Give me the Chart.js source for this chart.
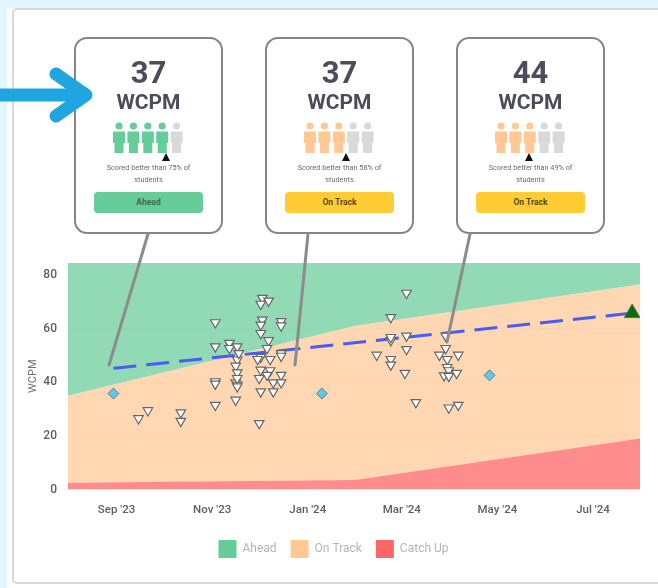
<!DOCTYPE html>
<html>
<head>
<meta charset="utf-8">
<title>WCPM progress</title>
<script src="https://cdn.jsdelivr.net/npm/chart.js@4"></script>
<style>
  html, body { margin: 0; padding: 0; background: #fff; }
  body { width: 658px; height: 588px; position: relative; overflow: hidden; font-family: Roboto, sans-serif; }
  .edge-left { position: absolute; left: 0; top: 0; width: 7px; height: 588px; background: #e2f6ff; }
  .edge-top { position: absolute; left: 0; top: 0; width: 658px; height: 8px; background: #e2f6ff; }
  .panel { position: absolute; left: 12px; top: 8px; width: 660px; height: 576px; border: 2px solid #d8d8d8; border-radius: 5px; box-sizing: border-box; }
  #chartBox { position: absolute; left: 0; top: 0; width: 658px; height: 588px; }
  #overlay { position: absolute; left: 0; top: 0; pointer-events: none; }
  .card { position: absolute; top: 37px; width: 149px; height: 197px; box-sizing: border-box; border: 2.5px solid #858585; border-radius: 13px; background: #fff; text-align: center; }
  .card .num { position: absolute; left: 0; right: 0; top: 16px; font-size: 31px; line-height: 36px; font-weight: 700; color: #4b4c5c; }
  .card .unit { position: absolute; left: 0; right: 0; top: 50px; font-size: 21px; line-height: 26px; font-weight: 700; color: #4b4c5c; }
  .card .note { position: absolute; left: 22px; right: 22px; top: 123px; font-size: 7.3px; line-height: 11.5px; color: #6b6b70; }
  .card .badge { position: absolute; left: 18px; width: 109px; top: 153px; height: 21px; line-height: 20px; border-radius: 4px; font-size: 8.5px; font-weight: 700; }
  .card svg { position: absolute; left: 0; top: 0; }
</style>
</head>
<body>
<div class="edge-left"></div>
<div class="edge-top"></div>
<div class="panel"></div>
<div id="chartBox"><canvas id="chart" width="658" height="588"></canvas></div>
<div id="cards"></div>
<svg id="overlay" width="658" height="588">
  <g stroke="#8c8c8c" stroke-width="3" stroke-linecap="round" fill="none">
    <line x1="148" y1="234" x2="109" y2="365"/>
    <line x1="308" y1="234" x2="295" y2="365"/>
    <line x1="470" y1="234" x2="447" y2="342"/>
  </g>
  <g stroke="#1fa5e0" stroke-width="13" stroke-linecap="round" stroke-linejoin="round" fill="none">
    <line x1="-5" y1="95" x2="85" y2="95"/>
    <polyline points="56,74 86,95 56,116"/>
  </g>
</svg>

<script>
// x values are days counted from 1 Sep 2023
const tickDays = [0, 61, 122, 182, 243, 304];
const tickLabels = ["Sep '23", "Nov '23", "Jan '24", "Mar '24", "May '24", "Jul '24"];

const bandDays = [-31, 152, 334];
const catchUpTop = [2.5, 3.5, 19];
const onTrackTop = [35, 61, 76.5];
const aheadTop = [84.5, 84.5, 84.5];

const trendDays = [-2, 329];
const trendValues = [45.2, 65.8];

const goalDays = [329];
const goalValues = [65.8];

const quizDays = [-2, 131, 238];
const quizValues = [35.8, 35.8, 42.6];

const readingDays = [14, 20, 41, 41, 63, 63, 63, 63, 63, 72, 72, 77, 76, 77, 76, 77, 76, 77, 77, 77, 78,
  93, 92, 97, 93, 92, 92, 97, 96, 91, 92, 91, 92, 90, 98, 92, 98, 96, 100, 100, 105, 105, 105, 105, 105, 105,
  185, 175, 175, 175, 185, 185, 166, 175, 175, 184, 191, 212, 218, 210, 210, 206, 218, 211, 211, 212, 209, 212, 217];
const readingValues = [26.5, 29.5, 25.5, 28.7, 31.5, 40.3, 39.4, 53.3, 62.3, 54.6, 52.7, 53.3, 33.4, 48.4, 46.1, 43.6, 39.9, 39, 41.5, 38.4, 50.8,
  71.4, 69.2, 70.4, 63.3, 61.4, 58.3, 55.6, 52.7, 24.7, 36.5, 41.5, 49.4, 48.6, 48.6, 44.6, 44.4, 42.7, 39.9, 36.5, 42.7, 39.9, 62.7, 61.1, 50.8, 49.8,
  73.3, 64.2, 55.6, 56.8, 57.3, 52.3, 50.2, 48.6, 46.5, 43.4, 32.5, 30.5, 31.5, 57.3, 52.7, 50.2, 50.2, 48.6, 45.6, 44.4, 42.5, 42.3, 43.4];

const bandNames = ["Ahead", "On Track", "Catch Up"];
const bandSwatches = ["#66cc99", "#ffc894", "#ff6666"];

const cardLeft = [74, 265, 456];
const cardScores = ["37", "37", "44"];
const cardPercents = [75, 58, 49];
const cardFilled = [4, 3, 3];
const cardMarker = [90, 79, 71];
const cardStatus = ["Ahead", "On Track", "On Track"];

function pairs(xs, ys) {
  return xs.map((x, i) => ({ x: x, y: ys[i] }));
}

function person(cx, color) {
  return '<circle cx="' + cx + '" cy="87" r="3.6" fill="' + color + '"/>' +
    '<path fill="' + color + '" d="M' + (cx - 6) + ' 92.5 h12 v11.5 h-1.5 v10 h-9 v-10 h-1.5 z"/>';
}

// build the three cards
let cardsHtml = '';
cardLeft.forEach((left, i) => {
  const ahead = cardStatus[i] === 'Ahead';
  const color = ahead ? '#66cc99' : '#ffc894';
  let icons = '';
  for (let p = 0; p < 5; p++) {
    icons += person(43 + p * 14.4, p < cardFilled[i] ? color : '#d9d9d9');
  }
  const m = cardMarker[i];
  icons += '<path d="M' + (m - 4) + ' 122 L' + m + ' 114 L' + (m + 4) + ' 122 Z" fill="#111"/>';
  cardsHtml += '<div class="card" style="left:' + left + 'px">' +
    '<div class="num">' + cardScores[i] + '</div>' +
    '<div class="unit">WCPM</div>' +
    '<svg width="144" height="192">' + icons + '</svg>' +
    '<div class="note">Scored better than ' + cardPercents[i] + '% of students</div>' +
    '<div class="badge" style="background:' + (ahead ? '#66cc99' : '#ffcc33') + ';color:' + (ahead ? '#3f6f55' : '#5c4c1e') + '">' + cardStatus[i] + '</div>' +
    '</div>';
});
document.getElementById('cards').innerHTML = cardsHtml;

const ctx = document.getElementById('chart').getContext('2d');
new Chart(ctx, {
  type: 'scatter',
  data: {
    datasets: [
      { type: 'scatter', label: 'Trend', data: pairs(trendDays, trendValues), showLine: true, borderColor: '#4a5cf5', borderWidth: 3, borderDash: [23, 10], pointRadius: 0, order: 3 },
      { type: 'scatter', label: 'Goal', data: pairs(goalDays, goalValues), pointStyle: 'triangle', pointRadius: 9, backgroundColor: '#0b6b12', borderColor: '#4f6f50', borderWidth: 1, order: 0 },
      { type: 'scatter', label: 'Quiz', data: pairs(quizDays, quizValues), pointStyle: 'rectRot', pointRadius: 5.5, backgroundColor: '#5cc8ee', borderColor: '#777', borderWidth: 1, order: 1 },
      { type: 'scatter', label: 'Reading', data: pairs(readingDays, readingValues), pointStyle: 'triangle', rotation: 180, pointRadius: 5.5, backgroundColor: '#fff', borderColor: '#666', borderWidth: 1.2, order: 2 },
      { type: 'line', label: 'Catch Up', data: pairs(bandDays, catchUpTop), fill: 'origin', backgroundColor: 'rgba(255,102,102,0.75)', borderWidth: 0, pointRadius: 0, tension: 0, order: 4 },
      { type: 'line', label: 'On Track', data: pairs(bandDays, onTrackTop), fill: '-1', backgroundColor: 'rgba(255,200,148,0.72)', borderWidth: 0, pointRadius: 0, tension: 0, order: 5 },
      { type: 'line', label: 'Ahead', data: pairs(bandDays, aheadTop), fill: '-1', backgroundColor: 'rgba(102,204,153,0.72)', borderWidth: 0, pointRadius: 0, tension: 0, order: 6 }
    ]
  },
  options: {
    responsive: false,
    animation: false,
    layout: { padding: { left: 27, right: 18, top: 263, bottom: 20 } },
    scales: {
      x: {
        type: 'linear',
        min: -31,
        max: 334,
        afterBuildTicks: (scale) => { scale.ticks = tickDays.map((d) => ({ value: d })); },
        afterFit: (scale) => { scale.height = 36.5; },
        grid: { display: false },
        border: { display: false },
        ticks: {
          autoSkip: false,
          maxRotation: 0,
          padding: 6,
          color: '#5f5f5f',
          font: { family: 'Roboto', size: 11.5, weight: '500' },
          callback: (value) => tickLabels[tickDays.indexOf(value)]
        }
      },
      y: {
        min: 0,
        max: 84.5,
        afterFit: (scale) => { scale.width = 41; },
        grid: { color: 'rgba(225,225,225,0.35)', drawTicks: false },
        border: { display: false },
        title: { display: true, text: 'WCPM', color: '#6f6f6f', font: { family: 'Roboto', size: 11 }, padding: { top: 0, bottom: 4 } },
        ticks: {
          stepSize: 20,
          includeBounds: false,
          padding: 11,
          color: '#5f5f5f',
          font: { family: 'Roboto', size: 12, weight: '500' }
        }
      }
    },
    plugins: {
      tooltip: { enabled: false },
      legend: {
        position: 'bottom',
        labels: {
          boxWidth: 18,
          boxHeight: 18,
          padding: 14,
          color: '#b4b4b4',
          font: { family: 'Roboto', size: 12 },
          generateLabels: () => bandNames.map((name, i) => ({
            text: name,
            fillStyle: bandSwatches[i],
            strokeStyle: bandSwatches[i],
            lineWidth: 0,
            fontColor: '#b4b4b4'
          }))
        }
      }
    }
  }
});
</script>
</body>
</html>
